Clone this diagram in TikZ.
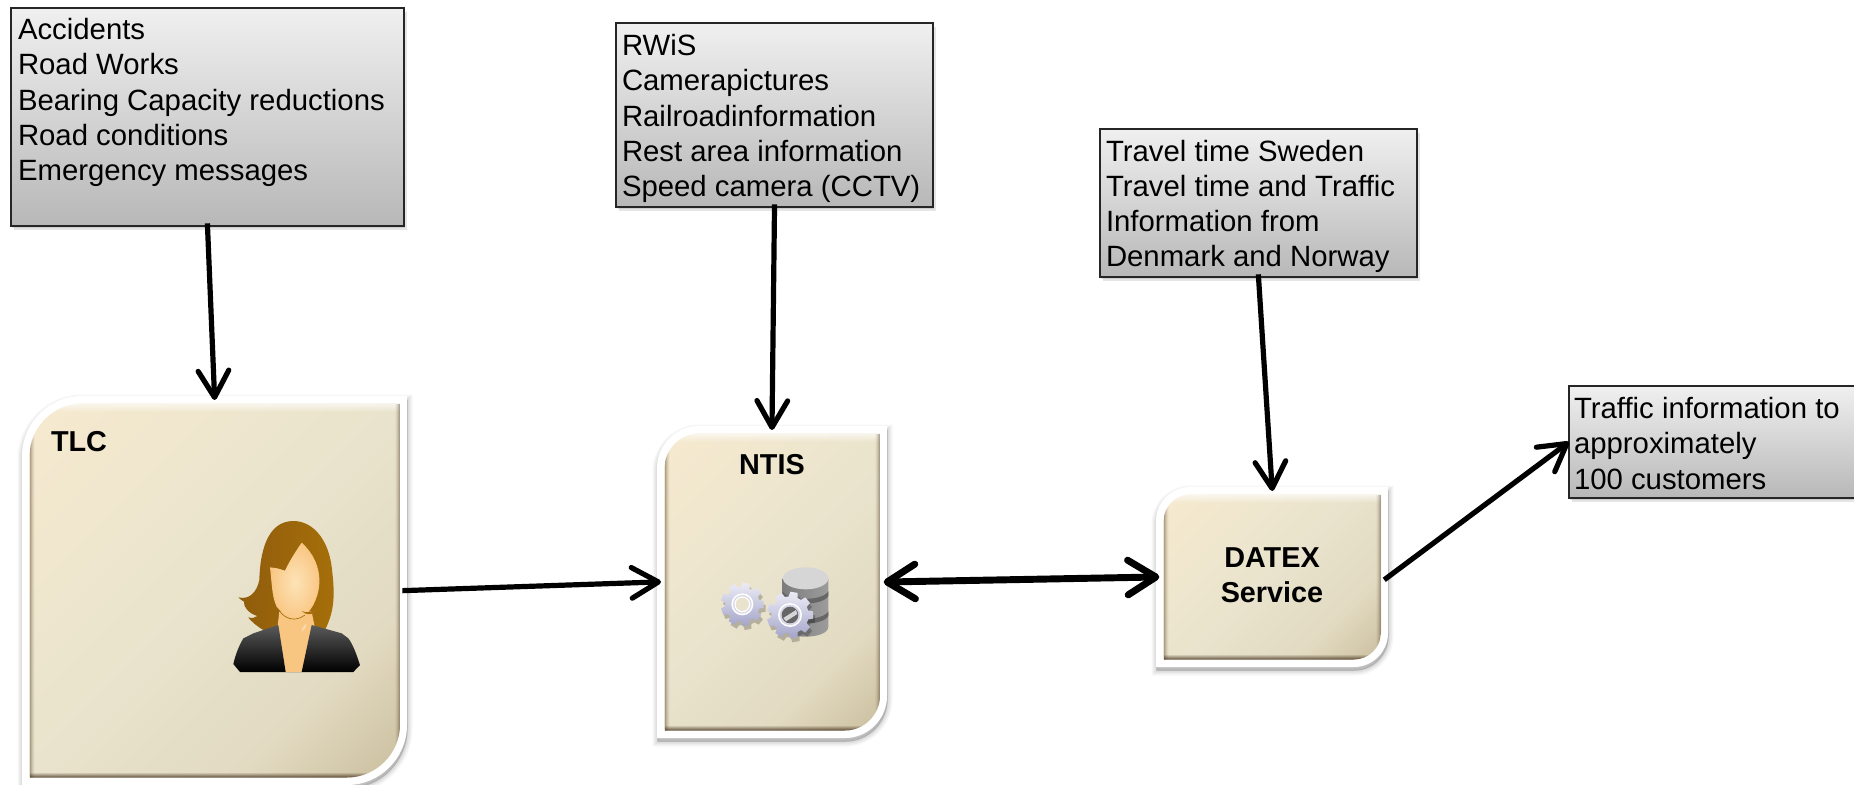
\documentclass[tikz,border=0pt]{standalone}
\usepackage{fontspec}
\setmainfont{Liberation Sans}
\usetikzlibrary{arrows.meta,calc}
\definecolor{creamA}{HTML}{F6EACF}
\definecolor{creamB}{HTML}{E9E3CD}
\definecolor{creamC}{HTML}{E2DAC1}
\definecolor{creamD}{HTML}{CBBF9F}
\definecolor{skinA}{HTML}{FDE3B8}
\definecolor{skinB}{HTML}{F9C682}
\definecolor{jacketA}{HTML}{5A5A5A}
\definecolor{dbA}{HTML}{7C7C7C}
\definecolor{dbB}{HTML}{D6D6D6}
\definecolor{dbC}{HTML}{9C9C9C}
\definecolor{dbD}{HTML}{666666}
\definecolor{hairA}{HTML}{8F5C0C}
\definecolor{hairB}{HTML}{A66F0A}
\definecolor{EEF}{HTML}{ECECF6}
\definecolor{GG}{HTML}{A4A4CA}
\pgfdeclarehorizontalshading{creamdiag}{100bp}{color(0bp)=(creamA); color(15bp)=(creamA); color(50bp)=(creamB); color(70bp)=(creamC); color(85bp)=(creamD); color(100bp)=(creamD)}
\tikzset{
  graybox/.style={rectangle,inner sep=0pt,outer sep=0pt,draw=black!85,line width=1.3pt,top color=gray!12,bottom color=gray!56!white,
    preaction={fill=black,opacity=.10,transform canvas={shift={(2pt,-3.2pt)}}},
    preaction={fill=black,opacity=.10,transform canvas={shift={(1pt,-1.8pt)}}}},
  wh/.style 2 args={minimum width={(#1)*0.75pt},minimum height={(#2)*0.75pt}},
  boxtext/.style={anchor=north west,inner sep=0pt,outer sep=0pt,align=left,font=\fontsize{22}{26.4}\selectfont},
  headtext/.style={inner sep=0pt,outer sep=0pt,align=center,font=\bfseries\fontsize{21.6}{26.6}\selectfont},
  softanchor/.style={rectangle,inner sep=0pt,outer sep=0pt},
  flow/.style={line width=3.9pt,shorten >=-3pt,-{Straight Barb[length=20pt,width=23pt,round]}},
  flowthick/.style={line width=5.2pt,shorten >=-2.5pt,shorten <=-2.5pt,{Straight Barb[length=21pt,width=26pt,round]}-{Straight Barb[length=21pt,width=26pt,round]}},
}
% rounded top-left and bottom-right corners
\newcommand{\diagpath}[5]{(#1,{#2+#5}) .. controls (#1,{#2+.45*#5}) and ({#1+.45*#5},#2) .. ({#1+#5},#2) -- (#3,#2) -- (#3,{#4-#5}) .. controls (#3,{#4-.45*#5}) and ({#3-.45*#5},#4) .. ({#3-#5},#4) -- (#1,#4) -- cycle}
\newcommand{\creambox}[6]{%
  \foreach \w/\o in {10/.035,7/.04,4/.05,1/.06}{%
    \path[fill=black,draw=black,opacity=\o,line width=\w*0.75pt,shift={(0.5,3.5)}] \diagpath{#2}{#3}{#4}{#5}{#6};}
  \fill[white] \diagpath{#2}{#3}{#4}{#5}{#6};
  \pgfmathsetmacro\ia{#2+7.5}\pgfmathsetmacro\ib{#3+7.5}\pgfmathsetmacro\ic{#4-7}\pgfmathsetmacro\id{#5-7.5}\pgfmathsetmacro\ir{#6-7}
  \begin{scope}
    \clip \diagpath{\ia}{\ib}{\ic}{\id}{\ir};
    \shade[shading=creamdiag,shading angle=-45] (\ia,\ib) rectangle (\ic,\id);
    \foreach \k in {0,...,7}{\pgfmathsetmacro\op{.6*(1-\k/8)}
      \fill[white,opacity=\op] (\ia,{\ib+\k}) rectangle (\ic,{\ib+\k+1});}
    \foreach \k in {0,...,4}{\pgfmathsetmacro\op{.7*(1-\k/5)}
      \fill[black!70!brown,opacity=\op] (\ia,{\id-\k-1}) rectangle (\ic,{\id-\k});
      \pgfmathsetmacro\oq{.14*(1-\k/5)}
      \fill[black!70!brown,opacity=\oq] (\ia,\ib) rectangle ({\ia+\k+1},\id);
      \fill[black!70!brown,opacity=\oq] ({\ic-\k-1},\ib) rectangle (\ic,\id);}
  \end{scope}
  \node[softanchor,wh={#4-#2}{#5-#3}] (#1) at ({(#2+#4)/2},{(#3+#5)/2}) {};
}
\newcommand{\gearicon}[3]{% centre x, centre y, outer radius
  \fill[black,opacity=.22,shift={(#1+6,#2+12)}] (-14:{#3*.8}) \foreach \a in {0,40,...,320}{ -- (\a-14:{#3*.8}) -- (\a-9:#3) -- (\a+9:#3) -- (\a+14:{#3*.8})} -- cycle;
  \shade[top color=EEF,bottom color=GG,shift={(#1,#2)}] (-14:{#3*.8}) \foreach \a in {0,40,...,320}{ -- (\a-14:{#3*.8}) -- (\a-9:#3) -- (\a+9:#3) -- (\a+14:{#3*.8})} -- cycle;
}
\begin{document}
\begin{tikzpicture}[x=0.75pt,y=-0.75pt]
\useasboundingbox (0,0) rectangle (1854,785);
\fill[white] (0,0) rectangle (1854,785);

% soft boxes
\creambox{tlc}{22}{396}{407}{785}{60}
\creambox{ntis}{657}{426}{887}{738}{42}
\creambox{datex}{1156}{487}{1388}{667}{34}

% grey boxes
\node[graybox,wh={393}{218}] (accidents) at (207.5,117) {};
\node[graybox,wh={317}{184}] (rwis) at (774.5,115) {};
\node[graybox,wh={317}{148}] (travel) at (1258.5,203) {};
\node[graybox,wh={292}{112}] (customers) at (1715,442) {};

\node[boxtext] (accidentsT) at (18,18.5) {Accidents\\Road Works\\Bearing Capacity reductions\\Road conditions\\Emergency messages};
\node[boxtext] (rwisT) at (622,34.5) {RWiS\\Camerapictures\\Railroadinformation\\Rest area information\\Speed camera (CCTV)};
\node[boxtext] (travelT) at (1106,140) {Travel time Sweden\\Travel time and Traffic\\Information from\\Denmark and Norway};
\node[boxtext] (customersT) at (1574,397.5) {Traffic information to\\approximately\\100 customers};

\node[headtext,anchor=base] (tlcT) at (79,451) {TLC};
\node[headtext,anchor=base] (ntisT) at (772,474) {NTIS};
\node[headtext,anchor=base] (datexT) at (1272,567) {DATEX};
\node[headtext,anchor=base] (serviceT) at (1272,602) {Service};

% person
\begin{scope}[shift={(0,380)},scale=1/3]
  \path[left color=hairA,right color=hairB]
    (880,423) .. controls (940,423) and (985,480) .. (995,560) .. controls (1005,640) and (1005,690) .. (975,750) -- (790,750)
    .. controls (765,735) and (750,720) .. (745,712) .. controls (755,715) and (765,715) .. (772,708)
    .. controls (745,700) and (730,680) .. (732,665) .. controls (725,660) and (720,658) .. (715,652)
    .. controls (745,660) and (770,640) .. (778,600) .. controls (780,520) and (800,423) .. (880,423) -- cycle;
  \fill[skinB] (838,695) -- (935,695) -- (945,745) -- (905,876) -- (857,876) -- (832,745) -- cycle;
  \path[top color=jacketA,bottom color=black]
    (835,735) -- (760,760) -- (730,775) .. controls (715,800) and (705,830) .. (700,852) -- (720,876) -- (1060,876) -- (1080,855)
    .. controls (1070,825) and (1060,795) .. (1045,775) -- (1025,760) -- (935,735) -- (905,876) -- (857,876) -- cycle;
  \fill[white,opacity=.35] (905,755) .. controls (905,745) and (912,735) .. (920,730) .. controls (918,742) and (912,752) .. (905,755) -- cycle;
  \path[inner color=skinA,outer color=skinB]
    (905,488) .. controls (940,520) and (960,560) .. (958,610) .. controls (955,660) and (930,700) .. (905,712)
    .. controls (880,725) and (850,705) .. (830,680) .. controls (815,650) and (815,600) .. (810,562)
    -- (832,565) -- (855,572) .. controls (870,540) and (890,510) .. (905,488) -- cycle;
  \draw[hairB,line width=.5pt] (840,695) .. controls (855,715) and (885,728) .. (915,705);
  \fill[hairB] (905,693) .. controls (920,700) and (935,700) .. (958,680) .. controls (950,700) and (925,712) .. (905,693) -- cycle;
\end{scope}

% database and gears
\begin{scope}[shift={(640,410)},scale=1/3]
  \path[left color=dbA,middle color=dbB,right color=dbC]
    (428,505) -- (428,650) .. controls (428,690) and (565,690) .. (565,650) -- (565,505) -- cycle;
  \foreach \yy in {552,612}{
    \path[fill=dbD] (428,\yy-8) .. controls (445,\yy+22) and (548,\yy+22) .. (565,\yy-8) -- (565,\yy+6) .. controls (548,\yy+36) and (445,\yy+36) .. (428,\yy+6) -- cycle;}
  \path[left color=dbB,middle color=dbD,right color=dbB] (497,505) ellipse [x radius=68,y radius=33];
  \gearicon{307}{583}{65}
  \fill[white] (307,583) circle [radius=33];
  \fill[white!55!GG] (307,583) circle [radius=28];
  \fill[white] (307,583) circle [radius=24];
  \fill[creamB] (307,583) circle [radius=20];
  \gearicon{450}{615}{70}
  \fill[white] (450,615) circle [radius=36];
  \fill[white!55!GG] (450,615) circle [radius=31];
  \fill[dbD] (450,615) circle [radius=25];
  \fill[dbB] (430,624) -- (468,600) -- (472,612) -- (438,634) -- cycle;
\end{scope}

% connectors
\draw[flow,shorten <=-2pt] (accidents.south) -- (tlc.north);
\draw[flow,shorten <=-2pt] (rwis.south) -- (ntis.north);
\draw[flow,shorten <=-2pt] (travel.south) -- (datex.north);
\draw[flow,shorten <=-3.5pt] (tlc.east) -- (ntis.west);
\draw[flowthick] (ntis.east) -- (datex.west);
\draw[flow,shorten <=-3.5pt,shorten >=0pt] (datex.east) -- (customers.west);
\end{tikzpicture}
\end{document}
